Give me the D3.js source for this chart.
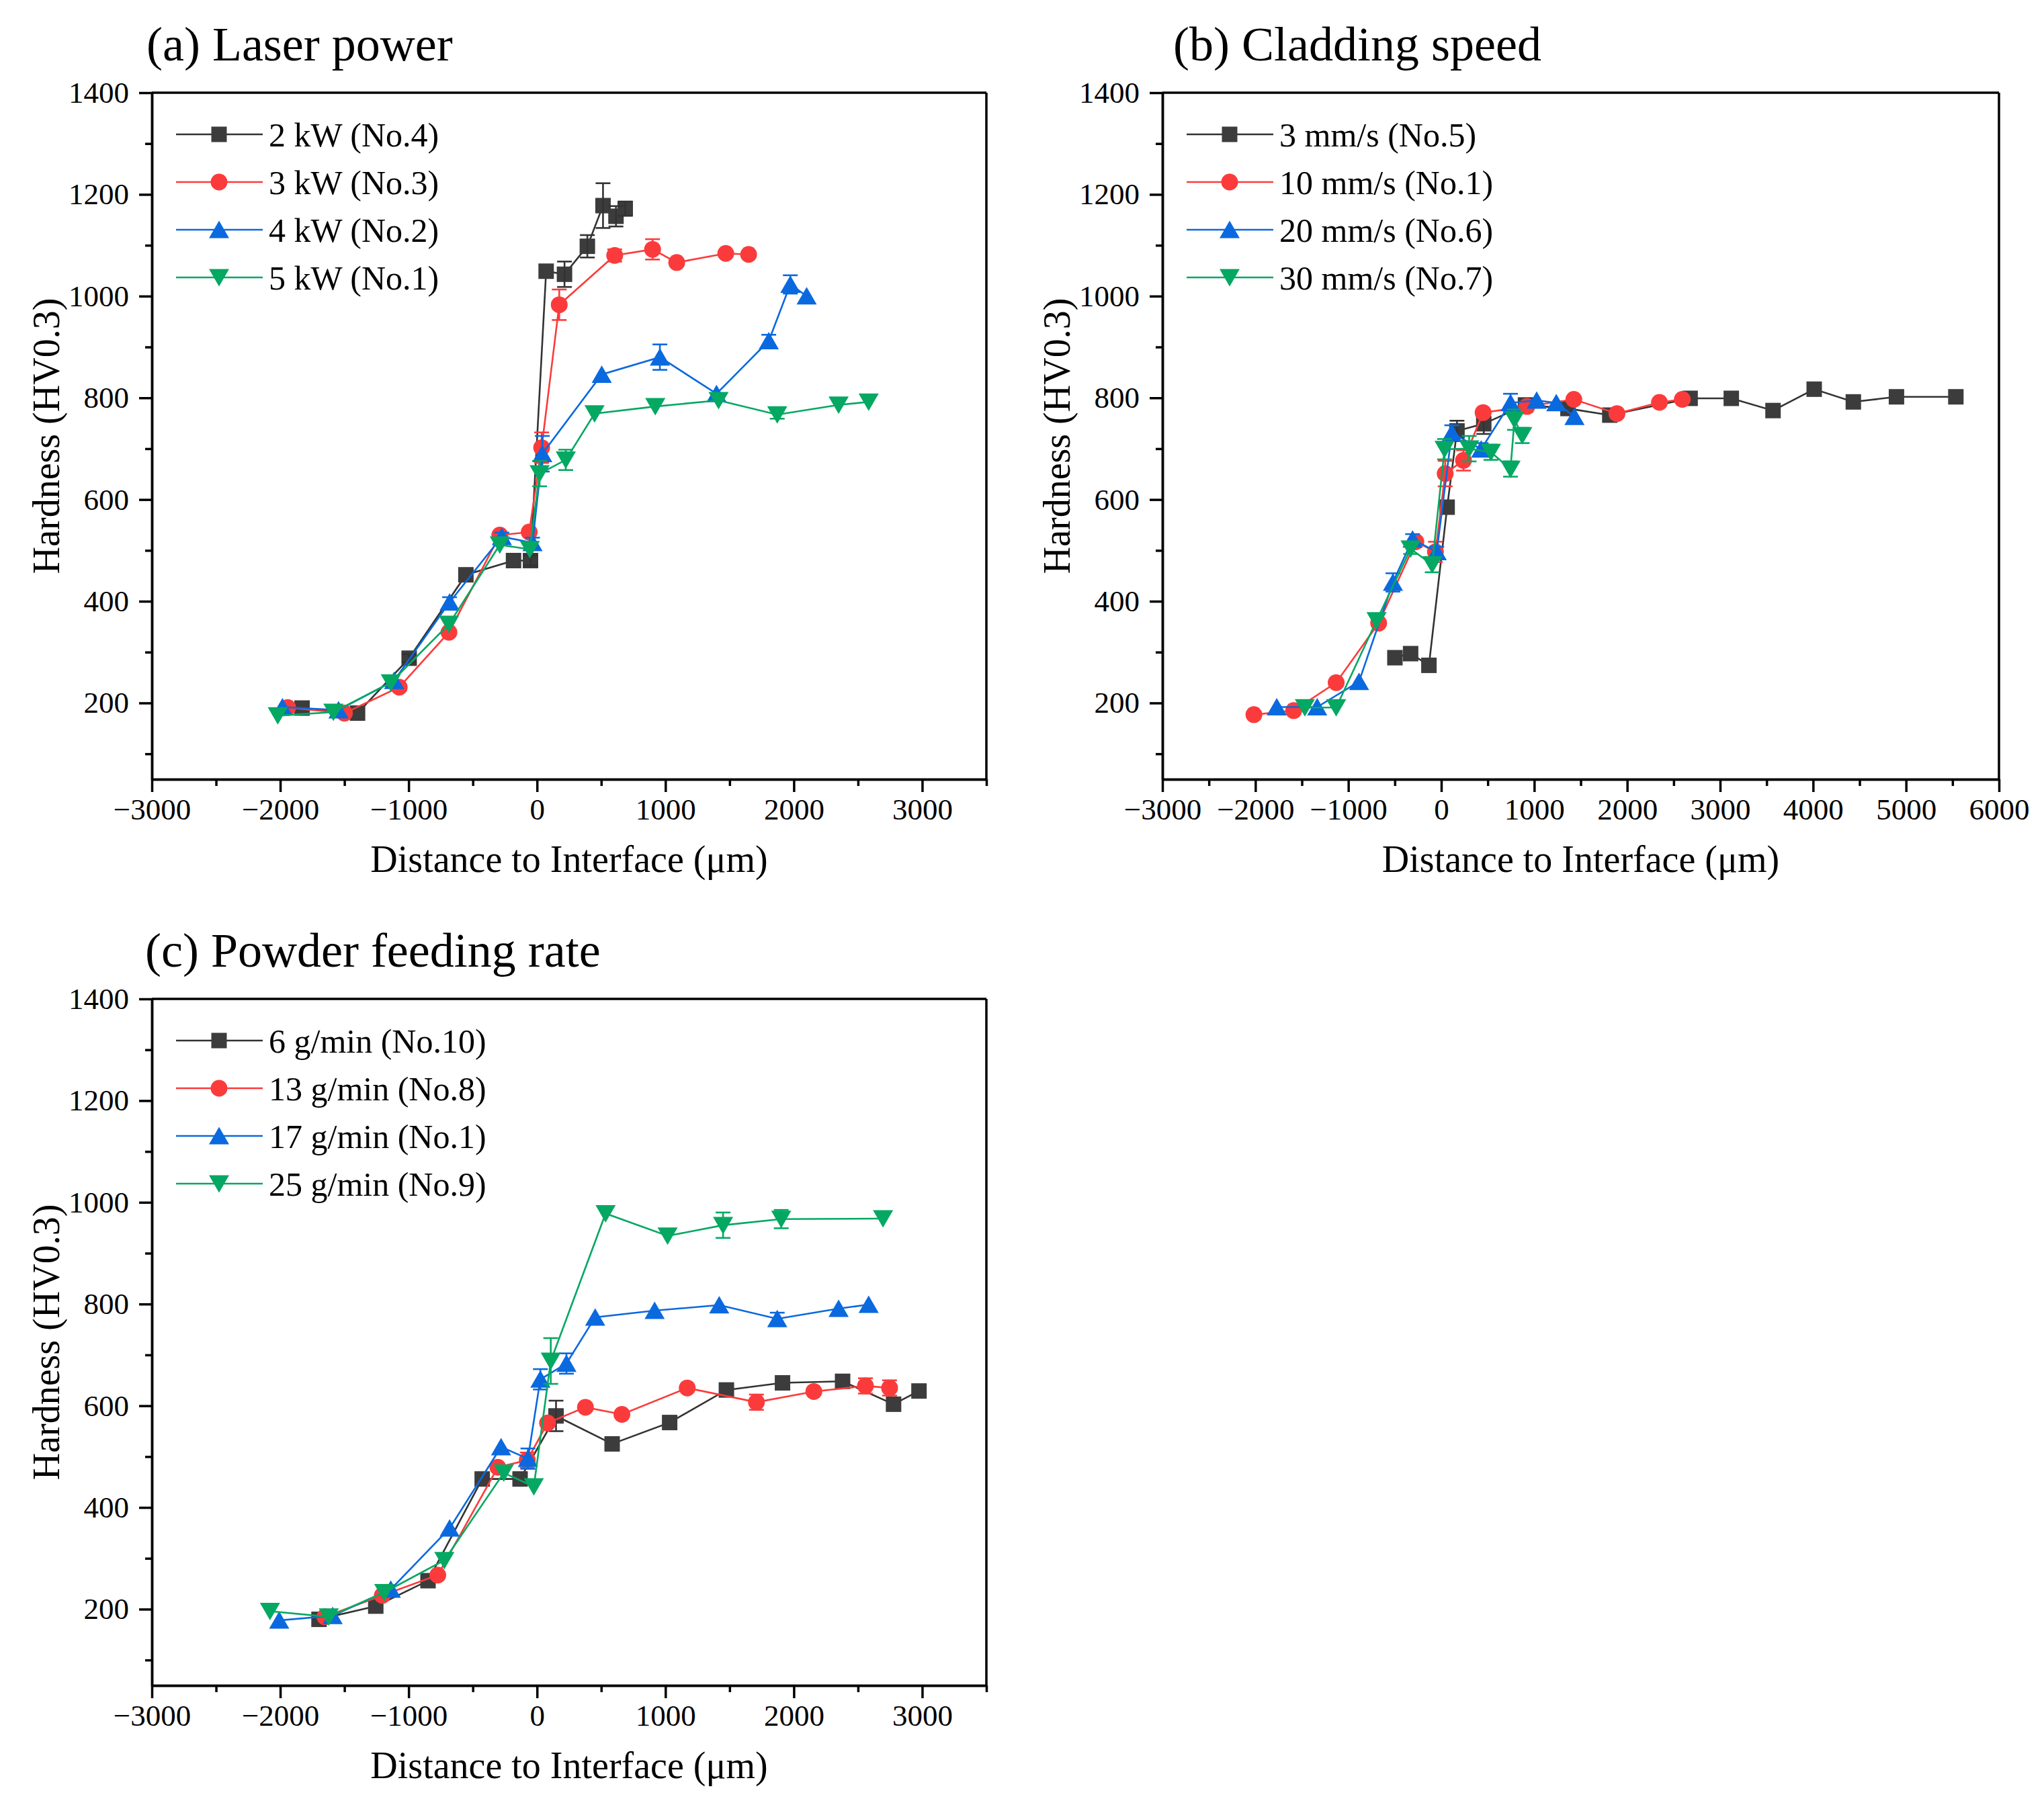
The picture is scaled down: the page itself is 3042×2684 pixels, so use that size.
<!DOCTYPE html>
<html>
<head>
<meta charset="utf-8">
<script src="https://cdn.jsdelivr.net/npm/d3@7"></script>
<style>
  body { margin: 0; background: #fff; }
  text { font-family: "Liberation Serif", "Times New Roman", serif; fill: #000; }
</style>
</head>
<body>
<script>
// each point: [distance to interface (um), hardness HV0.3, error bar half-height]
var laser2kW = [[-1830,190,0],[-1398,180,0],[-996,288,8],[-554,452,0],[-183,480,0],[-51,480,10],[71,1049,0],[214,1043,25],[392,1098,22],[514,1178,44],[615,1157,20],[687,1172,14]];
var laser3kW = [[-1942,191,0],[-1500,180,0],[-1073,231,0],[-686,339,0],[-290,530,0],[-61,536,0],[36,702,30],[173,983,30],[605,1080,12],[900,1092,20],[1088,1066,0],[1470,1084,0],[1648,1082,0]];
var laser4kW = [[-1983,192,0],[-1546,186,0],[-1113,244,0],[-681,398,10],[-274,527,8],[-35,515,10],[41,690,35],[504,846,0],[957,880,25],[1398,808,0],[1805,912,12],[1973,1023,18],[2100,1000,0]];
var laser5kW = [[-2019,175,0],[-1586,182,0],[-1139,240,0],[-686,355,0],[-290,511,0],[-56,502,0],[20,651,25],[224,678,20],[448,769,0],[921,783,0],[1414,795,0],[1871,767,8],[2349,786,0],[2583,792,0]];

var speed3 = [[-499,289,0],[-330,297,0],[-133,274,0],[63,585,0],[169,735,20],[457,749,20],[906,786,0],[1363,779,0],[1813,766,0],[2677,799,0],[3120,799,0],[3569,775,0],[4012,817,0],[4433,792,0],[4897,802,0],[5536,802,0]];
var speed10 = [[-2016,177,0],[-1588,185,0],[-1131,240,0],[-674,357,0],[-274,517,0],[-63,497,20],[42,651,25],[239,677,20],[450,771,0],[921,783,0],[1426,797,0],[1890,769,0],[2347,791,0],[2593,797,0]];
var speed20 = [[-1770,192,0],[-1335,192,0],[-885,242,0],[-520,437,18],[-309,522,10],[-49,497,10],[113,731,15],[429,699,12],[745,790,18],[1026,795,0],[1237,790,0],[1433,763,0]];
var speed30 = [[-1468,191,0],[-1131,191,0],[-696,362,0],[-330,503,10],[-98,472,15],[35,699,20],[300,700,25],[534,693,15],[745,660,15],[787,757,20],[871,726,15]];

var powder6 = [[-1698,180,0],[-1256,206,0],[-849,256,0],[-427,456,0],[-132,456,0],[148,580,30],[585,525,0],[1033,567,0],[1475,631,0],[1912,645,0],[2380,648,0],[2777,603,0],[2975,629,0]];
var powder13 = [[-1652,185,0],[-1205,227,0],[-773,267,0],[-305,479,0],[-76,493,15],[82,566,0],[377,597,0],[661,583,0],[1170,635,0],[1709,607,15],[2156,628,0],[2558,639,15],[2746,635,15]];
var powder17 = [[-2008,178,0],[-1592,187,0],[-1139,239,0],[-681,359,0],[-280,519,0],[-71,496,20],[26,652,20],[229,683,20],[453,774,0],[916,787,0],[1419,798,0],[1871,771,12],[2349,791,0],[2583,799,0]];
var powder25 = [[-2080,196,0],[-1622,185,0],[-1190,233,0],[-722,296,0],[-259,468,0],[-25,441,0],[107,688,45],[534,978,0],[1017,934,0],[1449,955,25],[1902,967,18],[2695,968,0]];

var laserNames = ["2 kW (No.4)", "3 kW (No.3)", "4 kW (No.2)", "5 kW (No.1)"];
var speedNames = ["3 mm/s (No.5)", "10 mm/s (No.1)", "20 mm/s (No.6)", "30 mm/s (No.7)"];
var powderNames = ["6 g/min (No.10)", "13 g/min (No.8)", "17 g/min (No.1)", "25 g/min (No.9)"];

var yTicks = [200, 400, 600, 800, 1000, 1200, 1400];
var yMinor = [100, 300, 500, 700, 900, 1100, 1300];
var xTicksShort = [-3000, -2000, -1000, 0, 1000, 2000, 3000];
var xMinorShort = [-2500, -1500, -500, 500, 1500, 2500, 3500];
var xTicksLong = [-3000, -2000, -1000, 0, 1000, 2000, 3000, 4000, 5000, 6000];
var xMinorLong = [-2500, -1500, -500, 500, 1500, 2500, 3500, 4500, 5500];

var colors = ["#3c3c3c", "#fb3b3b", "#0a69df", "#05a862"];
var lineColors = ["#333333", "#fb3b3b", "#0a69df", "#05a862"];

// origin-like symbols, centred on their bounding box
var sq = { draw: function(c, s) { c.rect(-11.5, -11.5, 23, 23); } };
var circ = { draw: function(c, s) { c.moveTo(12.5, 0); c.arc(0, 0, 12.5, 0, 2 * Math.PI); } };
var triUp = { draw: function(c, s) { c.moveTo(0, -13.5); c.lineTo(15, 12.5); c.lineTo(-15, 12.5); c.closePath(); } };
var triDown = { draw: function(c, s) { c.moveTo(0, 13.5); c.lineTo(15, -12.5); c.lineTo(-15, -12.5); c.closePath(); } };
var symbols = [sq, circ, triUp, triDown];

var serif = '"Liberation Serif", "Times New Roman", serif';
var svg = d3.select("body").append("svg").attr("width", 3042).attr("height", 2684);

function drawPanel(p) {
  var g = svg.append("g");
  var x = d3.scaleLinear().domain(p.xDomain).range([p.left, p.right]);
  var y = d3.scaleLinear().domain([50, 1400]).range([p.bottom, p.top]);

  // frame top/right
  g.append("line").attr("x1", p.left).attr("x2", p.right).attr("y1", p.top).attr("y2", p.top)
    .attr("stroke", "#000").attr("stroke-width", 3.5);
  g.append("line").attr("x1", p.right).attr("x2", p.right).attr("y1", p.top).attr("y2", p.bottom)
    .attr("stroke", "#000").attr("stroke-width", 3.5);

  var fmt = d3.format("d");
  g.append("g").attr("class", "ax").attr("transform", "translate(0," + p.bottom + ")")
    .call(d3.axisBottom(x).tickValues(p.xTicks).tickFormat(fmt).tickSize(19).tickSizeOuter(0).tickPadding(9));
  g.append("g").attr("class", "ax").attr("transform", "translate(0," + p.bottom + ")")
    .call(d3.axisBottom(x).tickValues(p.xMinor).tickFormat("").tickSize(10).tickSizeOuter(0));
  g.append("g").attr("class", "ax").attr("transform", "translate(" + p.left + ",0)")
    .call(d3.axisLeft(y).tickValues(yTicks).tickFormat(fmt).tickSize(19).tickSizeOuter(0).tickPadding(15));
  g.append("g").attr("class", "ax").attr("transform", "translate(" + p.left + ",0)")
    .call(d3.axisLeft(y).tickValues(yMinor).tickFormat("").tickSize(10).tickSizeOuter(0));
  g.selectAll(".ax").attr("font-family", serif).attr("font-size", 45);
  g.selectAll(".domain, .tick line").attr("stroke", "#000").attr("stroke-width", 3.5);
  g.selectAll(".tick text").attr("font-family", serif).style("font-family", serif).style("font-size", "45px");

  // axis titles
  g.append("text").attr("x", (p.left + p.right) / 2).attr("y", p.bottom + 138)
    .attr("text-anchor", "middle").style("font-size", "56px").text("Distance to Interface (\u03bcm)");
  g.append("text").attr("transform", "translate(" + (p.left - 138) + "," + ((p.top + p.bottom) / 2) + ") rotate(-90)")
    .attr("text-anchor", "middle").style("font-size", "56px").text("Hardness (HV0.3)");
  g.append("text").attr("x", p.left + p.titleDx).attr("y", p.top - 48)
    .style("font-size", "72px").text(p.title);

  var line = d3.line().x(function(d) { return x(d[0]); }).y(function(d) { return y(d[1]); });

  p.series.forEach(function(s, i) {
    var sg = g.append("g");
    sg.append("path").datum(s).attr("d", line).attr("fill", "none")
      .attr("stroke", lineColors[i]).attr("stroke-width", 2.6);
    sg.selectAll(".m").data(s).enter().append("path")
      .attr("transform", function(d) { return "translate(" + x(d[0]) + "," + y(d[1]) + ")"; })
      .attr("d", d3.symbol().type(symbols[i]))
      .attr("fill", colors[i]);
    var eb = sg.selectAll(".e").data(s.filter(function(d) { return d[2] > 0; })).enter().append("g")
      .attr("stroke", lineColors[i]).attr("stroke-width", 2.6);
    eb.append("line").attr("x1", function(d) { return x(d[0]); }).attr("x2", function(d) { return x(d[0]); })
      .attr("y1", function(d) { return y(d[1] - d[2]); }).attr("y2", function(d) { return y(d[1] + d[2]); });
    eb.append("line").attr("x1", function(d) { return x(d[0]) - 11; }).attr("x2", function(d) { return x(d[0]) + 11; })
      .attr("y1", function(d) { return y(d[1] + d[2]); }).attr("y2", function(d) { return y(d[1] + d[2]); });
    eb.append("line").attr("x1", function(d) { return x(d[0]) - 11; }).attr("x2", function(d) { return x(d[0]) + 11; })
      .attr("y1", function(d) { return y(d[1] - d[2]); }).attr("y2", function(d) { return y(d[1] - d[2]); });
  });

  // legend
  var rows = [62, 133, 204, 275];
  p.names.forEach(function(n, i) {
    var ly = p.top + rows[i];
    g.append("line").attr("x1", p.left + 36).attr("x2", p.left + 165).attr("y1", ly).attr("y2", ly)
      .attr("stroke", lineColors[i]).attr("stroke-width", 2.6);
    g.append("path").attr("transform", "translate(" + (p.left + 100) + "," + ly + ")")
      .attr("d", d3.symbol().type(symbols[i])).attr("fill", colors[i]);
    g.append("text").attr("x", p.left + 174).attr("y", ly).attr("dy", "0.35em")
      .style("font-size", "50px").text(n);
  });
}

drawPanel({ title: "(a) Laser power", titleDx: -8, left: 226, right: 1468, top: 138, bottom: 1160,
  xDomain: [-3000, 3500], xTicks: xTicksShort, xMinor: xMinorShort,
  series: [laser2kW, laser3kW, laser4kW, laser5kW], names: laserNames });
drawPanel({ title: "(b) Cladding speed", titleDx: 16, left: 1730, right: 2975, top: 138, bottom: 1160,
  xDomain: [-3000, 6000], xTicks: xTicksLong, xMinor: xMinorLong,
  series: [speed3, speed10, speed20, speed30], names: speedNames });
drawPanel({ title: "(c) Powder feeding rate", titleDx: -10, left: 226, right: 1468, top: 1487, bottom: 2509,
  xDomain: [-3000, 3500], xTicks: xTicksShort, xMinor: xMinorShort,
  series: [powder6, powder13, powder17, powder25], names: powderNames });
</script>
</body>
</html>
